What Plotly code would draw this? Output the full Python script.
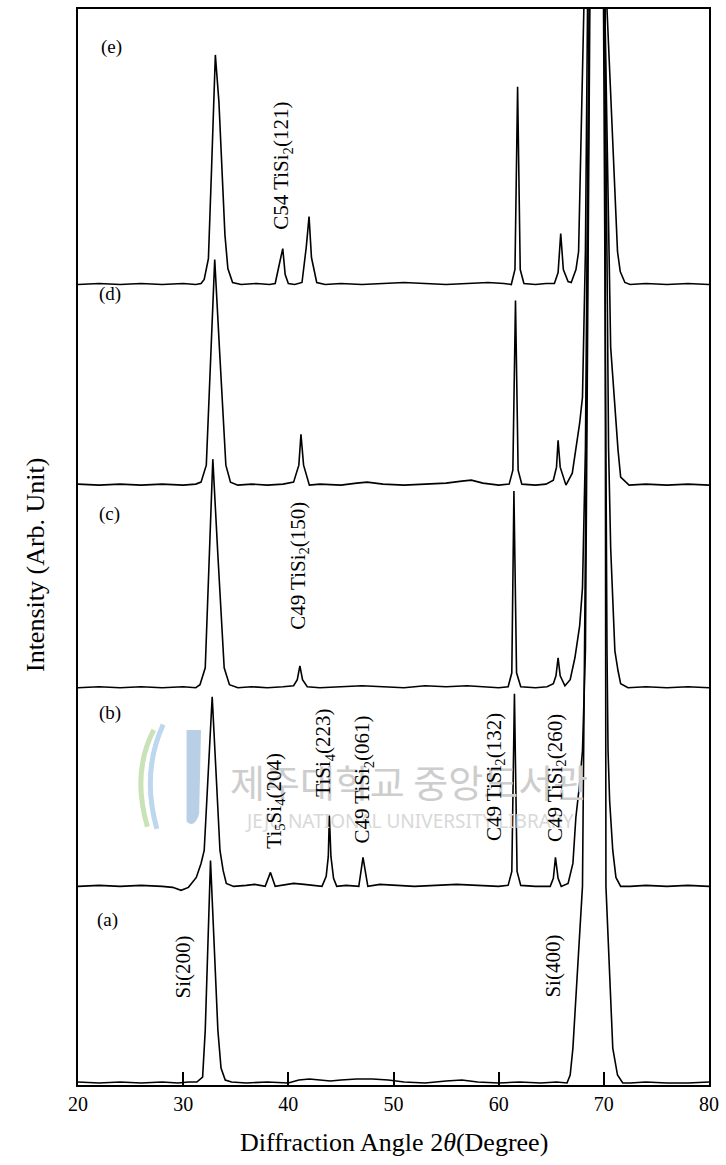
import plotly.graph_objects as go

# XRD patterns of the Ti/Si samples, (a) bare Si through (e), stacked with vertical offsets
angle_a = [20, 22, 24, 26, 28, 29.5, 30.5, 31.3, 31.85, 32.1, 32.6, 33.3, 33.6, 34.0, 34.6,
           36, 38, 40, 41, 42, 43, 44, 45, 46.5, 48, 49.5, 51, 53, 55, 56.5, 58, 60, 62, 64, 65.5,
           66.5, 66.8, 67.06, 67.97, 68.3, 68.62, 69.4, 70.1, 70.15, 70.2, 70.85, 71.3, 71.8,
           72.5, 74, 76, 78, 80]
intensity_a = [1, 0, 1, 0, 1, 0, 1, 1, 6, 53, 223, 53, 15, 3, 1,
               0, 1, 0, 3, 4, 3, 2, 3, 4, 4, 3, 1, 0, 2, 3, 1, 0, 1, 0, 1,
               0, 8, 35, 197, 600, 1078, 2600, 1078, 600, 197, 35, 8, 0,
               0, 1, 0, 0, 1]

angle_b = [20, 22, 24, 26, 28, 29.0, 29.8, 30.5, 31.25, 31.7, 32.0, 32.76, 33.5, 33.8, 34.1,
           34.8, 36, 36.8, 37.8, 38.3, 38.75, 39.5, 40.5, 41.5, 42.5, 43.2, 43.6, 43.8, 43.9, 44.05,
           44.3, 44.6, 45.5, 46.7, 47.1, 47.56, 48.7, 50, 52, 54, 56, 58, 60, 60.9, 61.25,
           61.5, 61.75, 62.1, 63.5, 64.9, 65.2, 65.4, 65.65, 65.95, 66.6, 67.06, 67.34, 67.7, 67.97,
           68.25, 69.4, 70.3, 70.4, 70.55, 70.85, 71.15, 71.6, 72.5, 74, 76, 78, 80]
intensity_b = [0, 1, 0, 1, 0, -1, -4, -1, 9, 23, 36, 190, 36, 16, 3,
               0, 1, 2, 0, 14, 0, 1, 3, 2, 1, 0, 10, 30, 71, 30,
               8, 0, 1, 0, 29, 0, 2, 1, 0, 1, 2, 1, 0, 1, 15,
               193, 15, 1, 0, 0, 8, 29, 8, 0, 3, 23, 69, 103, 136,
               236, 2000, 236, 136, 86, 36, 9, 0, 0, 1, 0, 1, 0]

angle_c = [20, 22, 24, 26, 28, 30, 31.2, 31.6, 32.1, 32.5, 32.82, 33.3, 33.9, 34.4, 35.2, 36.5,
           38, 39.5, 40.5, 40.85, 41.1, 41.35, 41.8, 43, 45, 47, 49, 51, 53, 55, 57, 58.5, 60,
           60.9, 61.25, 61.45, 61.7, 62.1, 63.5, 64.6, 65.2, 65.45, 65.65, 65.85, 66.3, 66.8,
           67.25, 67.7, 67.97, 68.25, 68.45, 69.4, 70.1, 70.45, 70.65, 71.05, 71.35, 71.6, 72.3,
           74, 76, 78, 80]
intensity_c = [0, 1, 0, 1, 0, 1, 0, 3, 20, 130, 229, 133, 20, 3, 0, 1,
               0, 1, 2, 8, 22, 8, 1, 0, 1, 2, 1, 0, 2, 1, 2, 1, 0,
               1, 15, 197, 15, 1, 0, 1, 4, 12, 30, 12, 2, 8,
               30, 62, 100, 240, 680, 1700, 680, 240, 140, 37, 17, 4, 0,
               1, 0, 1, 0]

angle_d = [20, 22, 24, 26, 28, 30, 31.2, 31.7, 32.2, 32.65, 33.0, 33.47, 34.06, 34.5, 35.2,
           36.5, 38, 39.5, 40.5, 41.0, 41.2, 41.45, 42.0, 43, 45, 46.5, 47.5, 49, 51, 53, 55,
           56.5, 57.4, 58.5, 60, 61.0, 61.35, 61.6, 61.85, 62.2, 63.5, 64.5, 65.2, 65.5, 65.65,
           65.85, 66.4, 67.0, 67.35, 67.7, 67.97, 68.25, 68.45, 69.4, 70.1, 70.45, 70.65, 71.35,
           71.6, 72.4, 74, 76, 78, 80]
intensity_d = [1, 0, 1, 0, 1, 0, 1, 3, 20, 130, 226, 133, 20, 3, 0,
               1, 0, 1, 3, 20, 51, 20, 0, 1, 0, 2, 3, 1, 0, 1, 2,
               4, 5, 2, 0, 1, 15, 185, 15, 1, 0, 1, 5, 18, 45,
               18, 0, 12, 35, 62, 88, 235, 478, 1500, 478, 235, 138, 35,
               8, 0, 1, 0, 1, 0]

angle_e = [20, 22, 24, 26, 28, 30, 31.2, 31.7, 32.0, 32.4, 32.7, 33.06, 33.4, 33.97, 34.25,
           34.7, 35.5, 37, 38.2, 38.75, 39.2, 39.47, 39.7, 40.0, 40.6, 41.3, 41.7, 41.97, 42.2,
           42.7, 43.5, 45, 47, 49, 51, 53, 55, 57, 59, 60.5, 61.2, 61.55, 61.8, 62.05, 62.4,
           63.5, 64.5, 65.3, 65.65, 65.9, 66.15, 66.6, 66.9, 67.35, 67.6, 68.1, 69.3, 70.3,
           71.3, 71.56, 72.0, 72.5, 74, 76, 78, 80]
intensity_e = [0, 1, 0, 1, 0, 1, 0, 1, 5, 26, 116, 230, 183, 50, 16,
               2, 0, 1, 0, 1, 23, 36, 10, 1, 0, 2, 37, 68, 27,
               2, 0, 1, 0, 1, 2, 1, 0, 1, 2, 1, 0, 15, 198, 15, 1,
               0, 1, 1, 12, 51, 15, 3, 2, 15, 33, 276, 900, 276,
               33, 13, 2, 0, 1, 0, 1, 0]

sample_names = ["(a)", "(b)", "(c)", "(d)", "(e)"]
offsets = [2, 199, 398, 601, 802]
angles = [angle_a, angle_b, angle_c, angle_d, angle_e]
intensities = [intensity_a, intensity_b, intensity_c, intensity_d, intensity_e]

# peak assignments: (text, 2theta, height on the stacked scale)
peak_labels = [
    ("Si(200)", 30.0, 118),
    ("Si(400)", 65.2, 119),
    ("Ti<sub>5</sub>Si<sub>4</sub>(204)", 38.65, 285),
    ("TiSi<sub>4</sub>(223)", 43.4, 333),
    ("C49 TiSi<sub>2</sub>(061)", 47.1, 306),
    ("C49 TiSi<sub>2</sub>(132)", 59.6, 309),
    ("C49 TiSi<sub>2</sub>(260)", 65.4, 308),
    ("C49 TiSi<sub>2</sub>(150)", 41.0, 520),
    ("C54 TiSi<sub>2</sub>(121)", 39.4, 921),
]
sample_label_pos = [(22.8, 165), (23.0, 373), (23.0, 572), (23.0, 792), (23.2, 1040)]

SERIF = "Liberation Serif"

fig = go.Figure()
for xs, ys, off in zip(angles, intensities, offsets):
    assert len(xs) == len(ys)
    fig.add_trace(go.Scatter(
        x=xs, y=[v + off for v in ys], mode="lines",
        line=dict(color="black", width=1.6),
        showlegend=False, hoverinfo="skip",
    ))

annotations = []
# faint library watermark behind the middle of the chart
annotations.append(dict(text="제주대학교 중앙도서관", x=0.525, y=0.283, xref="paper", yref="paper",
                        xanchor="center", yanchor="middle", showarrow=False,
                        font=dict(family="Noto Sans CJK KR", size=38, color="#cdcdcd")))
annotations.append(dict(text="JEJU NATIONAL UNIVERSITY LIBRARY", x=0.525, y=0.245, xref="paper", yref="paper",
                        xanchor="center", yanchor="middle", showarrow=False,
                        font=dict(family="Noto Sans", size=19, color="#d8d8d8")))

for text, xv, yv in peak_labels:
    annotations.append(dict(text=text, x=xv, y=yv, xref="x", yref="y", textangle=-90,
                            xanchor="center", yanchor="middle", showarrow=False,
                            font=dict(family=SERIF, size=21, color="black")))
for name, (xv, yv) in zip(sample_names, sample_label_pos):
    annotations.append(dict(text=name, x=xv, y=yv, xref="x", yref="y", showarrow=False,
                            xanchor="center", yanchor="middle",
                            font=dict(family=SERIF, size=19, color="black")))

annotations.append(dict(text="Diffraction Angle 2<i>θ</i>(Degree)", x=0.5, y=-0.0535,
                        xref="paper", yref="paper", xanchor="center", yanchor="middle",
                        showarrow=False, font=dict(family=SERIF, size=26, color="black")))
annotations.append(dict(text="Intensity (Arb. Unit)", x=-0.067, y=0.483, xref="paper", yref="paper",
                        xanchor="center", yanchor="middle", textangle=-90, showarrow=False,
                        font=dict(family=SERIF, size=26, color="black")))

# faint logo of the watermark: a pale blue bar with two curved strokes
shapes = [
    dict(type="path", xref="paper", yref="paper", layer="below",
         path="M 0.172,0.330 L 0.195,0.330 L 0.192,0.252 Q 0.185,0.238 0.172,0.245 Z",
         fillcolor="#b9cfe6", line=dict(width=0)),
    dict(type="path", xref="paper", yref="paper", layer="below",
         path="M 0.120,0.330 Q 0.085,0.290 0.110,0.240",
         line=dict(color="#c9e2b8", width=5)),
    dict(type="path", xref="paper", yref="paper", layer="below",
         path="M 0.135,0.335 Q 0.100,0.290 0.125,0.238",
         line=dict(color="#bcd7ee", width=5)),
]

fig.update_layout(
    width=726, height=1165,
    margin=dict(l=78, r=8, t=7, b=80),
    paper_bgcolor="white", plot_bgcolor="white",
    annotations=annotations, shapes=shapes,
    xaxis=dict(range=[20, 80], tickvals=[20, 30, 40, 50, 60, 70, 80],
               ticks="inside", ticklen=13, tickwidth=1.5, tickcolor="black",
               ticklabeloverflow="allow",
               showline=True, linecolor="black", linewidth=2, mirror=True,
               showgrid=False, zeroline=False,
               tickfont=dict(family=SERIF, size=20, color="black")),
    yaxis=dict(range=[0, 1078], showticklabels=False, ticks="",
               showline=True, linecolor="black", linewidth=2, mirror=True,
               showgrid=False, zeroline=False),
)

fig.write_html("out.html")
